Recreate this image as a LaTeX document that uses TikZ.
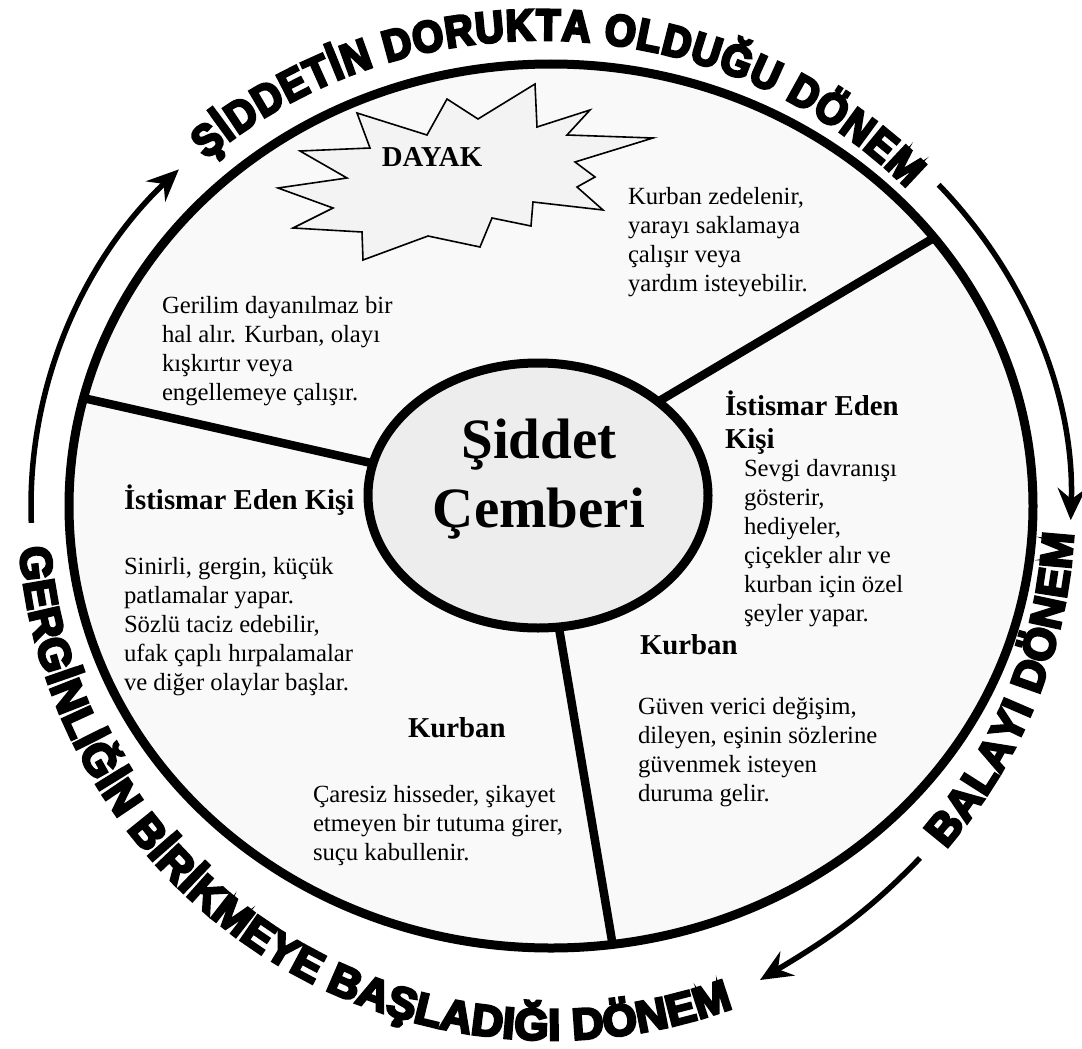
\documentclass[tikz,border=0pt]{standalone}
\usepackage{fontspec}
\setmainfont{Liberation Serif}
\newfontfamily\ringfont{Liberation Sans}[UprightFont={* Bold}, UprightFeatures={FakeBold=6}]
\usetikzlibrary{shapes.geometric,decorations.text,arrows.meta}
\definecolor{ringfill}{RGB}{249,249,249}
\definecolor{hubfill}{RGB}{237,237,237}
\definecolor{burstfill}{RGB}{243,243,243}
\tikzset{
  bodytxt/.style={anchor=north west, inner sep=0pt, outer sep=0pt, align=left, font=\fontsize{24.7pt}{29pt}\selectfont},
  headtxt/.style={anchor=north west, inner sep=0pt, outer sep=0pt, align=left, font=\bfseries\fontsize{28.8pt}{33pt}\selectfont},
  divider/.style={line width=8.5pt},
  cyclearrow/.style={line width=5.5pt, -{Stealth[length=32pt,width=28pt,inset=11pt]}},
  ringtext/.style 2 args={decorate, decoration={text along path, text align=fit to path,
      text={|\ringfont\fontsize{#1}{#1}\selectfont|#2}}},
  ringtextnarrow/.style 2 args={decorate, decoration={text along path, text align=fit to path,
      text={|\ringfont\addfontfeature{FakeStretch=0.9}\fontsize{#1}{#1}\selectfont|#2}}},
}
\begin{document}
\begin{tikzpicture}[x=1pt,y=1pt]
\useasboundingbox (0,0) rectangle (1082,-1049);
\fill[white] (0,0) rectangle (1082,-1049);
\coordinate (O) at (551,-506);
\coordinate (Ot) at (541,-506);

% main ring
\node[ellipse, draw, line width=9pt, fill=ringfill, minimum width=964pt, minimum height=884pt,
      inner sep=0pt, outer sep=0pt] (ring) at (O) {};

% burst
\draw[line width=1.6pt, fill=burstfill, line join=miter]
  (278,-188) -- (347,-178) -- (300,-151) -- (370,-148) -- (357,-113) -- (427,-135)
  -- (447,-99) -- (478,-119) -- (535,-84) -- (537,-127) -- (590,-110) -- (567,-135)
  -- (653,-138) -- (575,-162) -- (595,-177) -- (577,-187) -- (603,-210) -- (533,-202)
  -- (531,-226) -- (492,-218) -- (480,-247) -- (428,-236) -- (363,-260) -- (362,-232)
  -- (293,-228) -- (333,-208) -- cycle;

% hub
\node[ellipse, draw, line width=9pt, fill=hubfill, minimum width=340pt, minimum height=265pt,
      inner sep=0pt, outer sep=0pt] (hub) at (538,-495.5) {};

% dividers
\draw[divider] (ring.167.4) -- (hub.169.3);
\draw[divider] (hub.38.9) -- (ring.35.6);
\draw[divider] (hub.279.3) -- (ring.278.2);

% title
\node[anchor=north, inner sep=0pt, align=center, font=\bfseries\fontsize{57pt}{69pt}\selectfont]
  (title) at (539,-409.7) {\strut Şiddet\\Çemberi};

\node[anchor=base, inner sep=0pt, font=\bfseries\fontsize{28.8pt}{33pt}\selectfont] (dayak) at (432,-166) {DAYAK};

% texts
\node[bodytxt] (tA) at (162,-292.7) {\strut Gerilim dayanılmaz bir\\hal alır. Kurban, olayı\\kışkırtır veya\\engellemeye çalışır.};
\node[bodytxt] (tB) at (628,-183.7) {\strut Kurban zedelenir,\\yarayı saklamaya\\çalışır veya\\yardım isteyebilir.};
\node[headtxt] (hC) at (725,-390.9) {\strut İstismar Eden\\Kişi};
\node[bodytxt] (tC) at (744,-455.7) {\strut Sevgi davranışı\\gösterir,\\hediyeler,\\çiçekler alır ve\\kurban için özel\\şeyler yapar.};
\node[headtxt] (hC2) at (640,-630.9) {\strut Kurban};
\node[bodytxt] (tC2) at (638,-693.7) {\strut Güven verici değişim,\\dileyen, eşinin sözlerine\\güvenmek isteyen\\duruma gelir.};
\node[headtxt] (hD) at (124,-484.9) {\strut İstismar Eden Kişi};
\node[bodytxt] (tD) at (124,-553.7) {\strut Sinirli, gergin, küçük\\patlamalar yapar.\\Sözlü taciz edebilir,\\ufak çaplı hırpalamalar\\ve diğer olaylar başlar.};
\node[headtxt] (hE) at (408,-713.9) {\strut Kurban};
\node[bodytxt] (tE) at (313,-781.7) {\strut Çaresiz hisseder, şikayet\\etmeyen bir tutuma girer,\\suçu kabullenir.};

% ring texts
\path[ringtextnarrow={44pt}{ŞİDDETİN DORUKTA OLDUĞU DÖNEM}]
  ([shift={(132:500pt and 466pt)}]Ot) arc[start angle=132, end angle=43, x radius=500pt, y radius=466pt];
\path[ringtext={44pt}{GERGİNLİĞİN BİRİKMEYE BAŞLADIĞI DÖNEM}]
  ([shift={(184.5:533pt and 534pt)}]O) arc[start angle=184.5, end angle=290, x radius=533pt, y radius=534pt];
\path[ringtext={44pt}{BALAYI DÖNEM}]
  ([shift={(-41:523pt)}]O) arc[start angle=-41, end angle=-3, radius=523pt];

% cycle arrows
\coordinate (la) at ([shift={(182:520pt and 482pt)}]O);
\coordinate (ra) at ([shift={(41.8:520pt and 482pt)}]O);
\coordinate (ba) at (920,-858);
\coordinate (bb) at (760,-980);
\draw[cyclearrow] (la) arc[start angle=182, end angle=135.7, x radius=520pt, y radius=482pt];
\draw[cyclearrow] (ra) arc[start angle=41.8, end angle=-1.7, x radius=520pt, y radius=482pt];
\draw[cyclearrow] (ba) to[out=226, in=31] (bb);
\end{tikzpicture}
\end{document}
